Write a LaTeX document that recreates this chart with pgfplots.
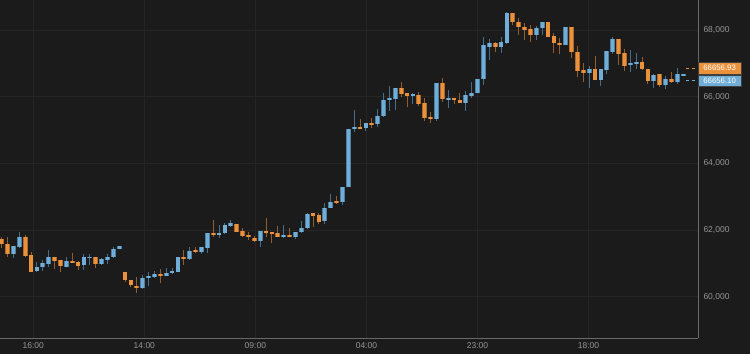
\documentclass[border=0pt]{standalone}
\usepackage{pgfplots}
\pgfplotsset{compat=1.18}
\usepackage{pgfplotstable}
\usepackage{fontspec}
\setmainfont{Liberation Sans}
\definecolor{bg}{RGB}{27,27,27}
\definecolor{gridc}{RGB}{37,37,37}
\definecolor{framec}{RGB}{105,105,105}
\definecolor{labc}{RGB}{150,150,150}
\definecolor{upfill}{RGB}{112,174,216}
\definecolor{upedge}{RGB}{78,128,162}
\definecolor{upwick}{RGB}{70,110,138}
\definecolor{dnfill}{RGB}{234,145,60}
\definecolor{dnedge}{RGB}{178,106,44}
\definecolor{dnwick}{RGB}{148,94,44}

\pgfplotstableread{
x o h l c
2 61272 61530 61170 61530
3 61500 61932 61452 61782
6 60771 61032 60732 60900
7 60882 61101 60780 61002
8 60972 61401 60900 61200
11 60900 61182 60900 61080
14 60951 61272 60801 61200
15 61170 61272 60951 61200
17 60972 61152 60951 61122
18 61101 61272 60972 61200
19 61200 61500 61170 61431
20 61431 61530 61431 61530
24 60252 60651 60231 60552
25 60552 60750 60321 60621
26 60600 60771 60570 60672
28 60630 60852 60621 60702
29 60702 60870 60681 60780
30 60750 61182 60750 61182
32 61131 61482 61101 61380
34 61350 61482 61272 61482
35 61470 61920 61320 61920
37 61851 62151 61752 61920
38 61902 62202 61881 62151
39 62130 62301 62100 62202
44 61680 61980 61500 61980
48 61782 62151 61752 61851
50 61782 61950 61722 61950
51 61932 62280 61920 62052
52 62052 62502 62031 62472
55 62271 62802 62172 62670
56 62652 63081 62652 62850
58 62832 63282 62751 63282
59 63282 65022 63282 65022
60 65022 65601 64950 65082
62 65070 65202 64980 65202
64 65181 65622 65100 65421
65 65421 66120 65382 65901
66 65901 66321 65580 65952
67 65931 66252 65601 66252
70 66030 66102 65772 66072
74 65322 66402 65271 66402
76 65922 66201 65652 65970
79 65820 66171 65571 66051
80 66030 66432 65970 66111
81 66102 66531 66102 66531
82 66531 67782 66351 67551
83 67500 67731 67101 67602
85 67500 67800 67302 67632
86 67602 68550 67581 68502
91 67851 68121 67701 68070
92 68052 68232 67851 68232
96 67551 68100 67551 68100
100 66702 66921 66252 66822
102 66501 66822 66330 66822
103 66801 67371 66672 67371
104 67332 67800 67272 67722
107 66951 67401 66750 67011
108 66981 67302 66831 67050
111 66471 66681 66270 66651
113 66351 66621 66231 66531
115 66432 66852 66372 66672
116 66640 66680 66630 66670
}\up

\pgfplotstableread{
x o h l c
0 61731 61800 61452 61572
1 61581 61800 61200 61272
4 61782 61851 61200 61230
5 61251 61332 60750 60750
9 61200 61200 60831 61080
10 61101 61101 60732 60930
12 61080 61302 61002 61032
13 61050 61080 60801 60930
16 61182 61200 60870 60972
21 60732 60750 60450 60501
22 60501 60501 60300 60351
23 60330 60600 60102 60282
27 60672 60831 60420 60621
31 61200 61401 60951 61140
33 61401 61482 61302 61350
36 61920 62301 61782 61851
40 62181 62181 61932 61932
41 61971 62070 61782 61821
42 61851 61932 61701 61782
43 61770 61821 61650 61680
45 61980 62370 61800 61932
46 61950 61950 61602 61902
47 61920 62121 61782 61782
49 61851 62052 61782 61782
53 62502 62502 62100 62430
54 62451 62520 62172 62250
57 62871 63030 62781 62820
61 65100 65331 65052 65052
63 65220 65352 65052 65172
68 66252 66432 66000 66072
69 66102 66102 65700 66030
71 66051 66150 65730 65772
72 65802 65952 65271 65370
73 65382 65550 65202 65331
75 66402 66552 65850 65931
77 65970 65970 65772 65901
78 65910 66102 65802 65802
84 67602 67650 67350 67500
87 68502 68502 68151 68250
88 68250 68370 67851 68100
89 68100 68202 67701 68001
90 68031 68151 67650 67851
93 68232 68232 67800 67800
94 67830 67902 67302 67602
95 67602 67752 67272 67551
97 68100 68100 67170 67350
98 67350 67530 66600 66771
99 66792 67002 66432 66702
101 66822 67230 66501 66501
105 67722 67722 66951 67281
106 67302 67431 66771 66930
109 67032 67182 66801 66831
110 66822 66822 66372 66471
112 66672 66672 66282 66351
114 66531 66750 66402 66432
}\dn

\begin{document}
\begin{tikzpicture}
\useasboundingbox[fill=bg] (0,0) rectangle (750pt,354pt);
\begin{axis}[
  at={(0pt,16pt)}, anchor=south west,
  scale only axis, width=698pt, height=338pt,
  xmin=-0.289, xmax=118.52, ymin=58761, ymax=68901,
  clip=false,
  axis background/.style={fill=bg},
  axis line style={draw=none},
  major tick length=0pt,
  grid=major, major grid style={gridc, line width=0.8pt},
  xtick={5.38,24.28,43.18,62.08,80.98,99.88},
  xticklabels={16:00,14:00,09:00,04:00,23:00,18:00},
  ytick={60000,62000,64000,66000,68000},
  yticklabel pos=right,
  scaled y ticks=false,
  /pgf/number format/1000 sep={,},
  /pgf/number format/assume math mode=true,
  ticklabel style={font=\fontsize{8.5}{10}\selectfont, text=labc},
  yticklabel style={anchor=west, inner sep=0pt, xshift=5.3pt},
  xticklabel style={anchor=north, inner sep=0pt, yshift=-4pt},
]
% wicks
\addplot[draw=none, mark=none, forget plot, error bars/.cd, y dir=both, y explicit, error mark=none,
  error bar style={draw=upwick, line width=1pt}]
  table[x=x, y expr={(\thisrow{h}+\thisrow{l})/2}, y error expr={(\thisrow{h}-\thisrow{l})/2}] {\up};
\addplot[draw=none, mark=none, forget plot, error bars/.cd, y dir=both, y explicit, error mark=none,
  error bar style={draw=dnwick, line width=1pt}]
  table[x=x, y expr={(\thisrow{h}+\thisrow{l})/2}, y error expr={(\thisrow{h}-\thisrow{l})/2}] {\dn};
% body outlines
\addplot[draw=none, mark=none, forget plot, error bars/.cd, y dir=both, y explicit, error mark=none,
  error bar style={draw=upedge, line width=4.8pt}]
  table[x=x, y expr={(\thisrow{o}+\thisrow{c})/2}, y error expr={(\thisrow{c}-\thisrow{o})/2}] {\up};
\addplot[draw=none, mark=none, forget plot, error bars/.cd, y dir=both, y explicit, error mark=none,
  error bar style={draw=dnedge, line width=4.8pt}]
  table[x=x, y expr={(\thisrow{o}+\thisrow{c})/2}, y error expr={(\thisrow{o}-\thisrow{c})/2}] {\dn};
% body fills
\addplot[draw=none, mark=none, forget plot, error bars/.cd, y dir=both, y explicit, error mark=none,
  error bar style={draw=upfill, line width=3.2pt}]
  table[x=x, y expr={(\thisrow{o}+\thisrow{c})/2}, y error expr={(\thisrow{c}-\thisrow{o})/2}] {\up};
\addplot[draw=none, mark=none, forget plot, error bars/.cd, y dir=both, y explicit, error mark=none,
  error bar style={draw=dnfill, line width=3.2pt}]
  table[x=x, y expr={(\thisrow{o}+\thisrow{c})/2}, y error expr={(\thisrow{o}-\thisrow{c})/2}] {\dn};
% frame
\draw[framec, line width=1pt] (rel axis cs:1,0) -- (rel axis cs:1,1);
\draw[framec, line width=1pt] (rel axis cs:0,0) -- (rel axis cs:1,0);
% last price markers
\draw[dnfill, line width=0.8pt, dash pattern=on 3pt off 3pt] (axis cs:116.5,66856) -- (axis cs:118.52,66856);
\draw[upfill, line width=0.8pt, dash pattern=on 3pt off 3pt] (axis cs:116.5,66476) -- (axis cs:118.52,66476);
\node[anchor=west, fill=dnfill, draw=black!75, line width=0.5pt, inner sep=0pt, minimum width=42.7pt, minimum height=11.7pt,
  text=white, font=\fontsize{7.8}{9}\selectfont] at (axis cs:118.52,66856) {66656.93};
\node[anchor=west, fill=upfill, draw=black!75, line width=0.5pt, inner sep=0pt, minimum width=42.7pt, minimum height=11.7pt,
  text=white, font=\fontsize{7.8}{9}\selectfont] at (axis cs:118.52,66476) {66656.10};
\end{axis}
\end{tikzpicture}
\end{document}
